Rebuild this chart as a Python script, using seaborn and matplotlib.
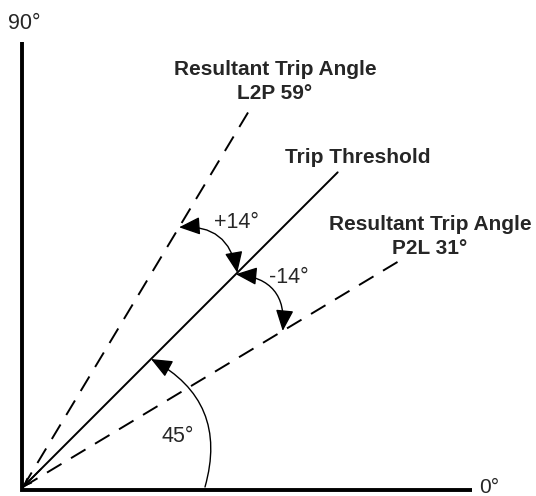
import numpy as np
import pandas as pd
import matplotlib
matplotlib.use("Agg")
import matplotlib.pyplot as plt
import seaborn as sns

# ---- data ----
ray_names = ["Trip Threshold", "L2P", "P2L"]
ray_angles = [45, 59, 31]          # degrees
ray_styles = ["solid", "dashed", "dashed"]
offset_angles = [14, -14]          # deviation from threshold
axis_labels = ["90°", "0°"]
offset_labels = ["+14°", "-14°"]
threshold_label = "45°"

sns.set_theme(style="white")
plt.rcParams["font.family"] = ["Liberation Sans", "DejaVu Sans"]

fig = plt.figure(figsize=(5.36, 4.96), dpi=100)
ax = fig.add_axes([0, 0, 1, 1])
ax.set_xlim(-23, 513)
ax.set_ylim(-9, 487)
ax.axis("off")

L = 445
rows = []
for name, ang in zip(ray_names, ray_angles):
    t = np.deg2rad(ang)
    rows.append(dict(ray=name, x=0.0, y=0.0))
    rows.append(dict(ray=name, x=L * np.cos(t), y=L * np.sin(t)))
rays = pd.DataFrame(rows)

for name, style in zip(ray_names, ray_styles):
    d = rays[rays.ray == name]
    ls = "-" if style == "solid" else (0, (8.7, 5.7))
    sns.lineplot(data=d, x="x", y="y", ax=ax, color="black", lw=1.4,
                 linestyle=ls, sort=False, estimator=None, legend=False)

# frame axes (0° and 90° directions)
axes_df = pd.DataFrame({"x": [-1.5, -1.5, 449], "y": [445, -3, -3]})
sns.lineplot(data=axes_df, x="x", y="y", ax=ax, color="black", lw=2.8,
             sort=False, estimator=None, legend=False)
ax.lines[-1].set_solid_joinstyle("miter")
ax.lines[-1].set_solid_capstyle("butt")

# small arrowhead at origin of threshold ray
t45 = np.deg2rad(ray_angles[0])
ax.annotate("", xy=(0, 0), xytext=(25 * np.cos(t45), 25 * np.sin(t45)),
            arrowprops=dict(arrowstyle="->,head_length=0.5,head_width=0.22",
                            color="black", lw=1.1, shrinkA=0, shrinkB=0,
                            mutation_scale=10))

def pt(ang, r):
    t = np.deg2rad(ang)
    return (r * np.cos(t), r * np.sin(t))

head = "head_length=1.3,head_width=0.55"
R = 303
base = ray_angles[0]
# +14 arc
ax.annotate("", xy=pt(base, R), xytext=pt(base + offset_angles[0], R),
            arrowprops=dict(arrowstyle="<|-|>," + head, color="black", lw=1.0,
                            connectionstyle="arc3,rad=-0.45",
                            shrinkA=0, shrinkB=0, mutation_scale=10))
# -14 arc
ax.annotate("", xy=pt(base + offset_angles[1], R), xytext=pt(base, R - 2),
            arrowprops=dict(arrowstyle="<|-|>," + head, color="black", lw=1.0,
                            connectionstyle="arc3,rad=-0.5",
                            shrinkA=0, shrinkB=0, mutation_scale=10))
# 45 arc from 0°
ax.annotate("", xy=pt(base, 181), xytext=pt(0, 182),
            arrowprops=dict(arrowstyle="-|>," + head, color="black", lw=1.0,
                            connectionstyle="arc3,rad=0.4",
                            shrinkA=0, shrinkB=0, mutation_scale=10))

# labels
ax.text(1, 458, axis_labels[0], ha="center", va="baseline", fontsize=15.5)
ax.text(466.5, -6, axis_labels[1], ha="center", va="baseline", fontsize=15)
ax.text(213, 259, offset_labels[0], ha="center", va="baseline", fontsize=15.5)
ax.text(266, 204, offset_labels[1], ha="center", va="baseline", fontsize=15.5)
ax.text(155, 45, threshold_label, ha="center", va="baseline", fontsize=15.5)

bold = dict(ha="center", va="baseline", fontsize=15, fontweight="bold")
ax.text(334.5, 323.7, "Trip Threshold", **bold)
ax.text(252, 412, "Resultant Trip Angle", **bold)
ax.text(252, 388, f"L2P {ray_angles[1]}°", **bold)
ax.text(407, 257, "Resultant Trip Angle", **bold)
ax.text(407, 233, f"P2L {ray_angles[2]}°", **bold)

fig.savefig("out.png", dpi=100)
